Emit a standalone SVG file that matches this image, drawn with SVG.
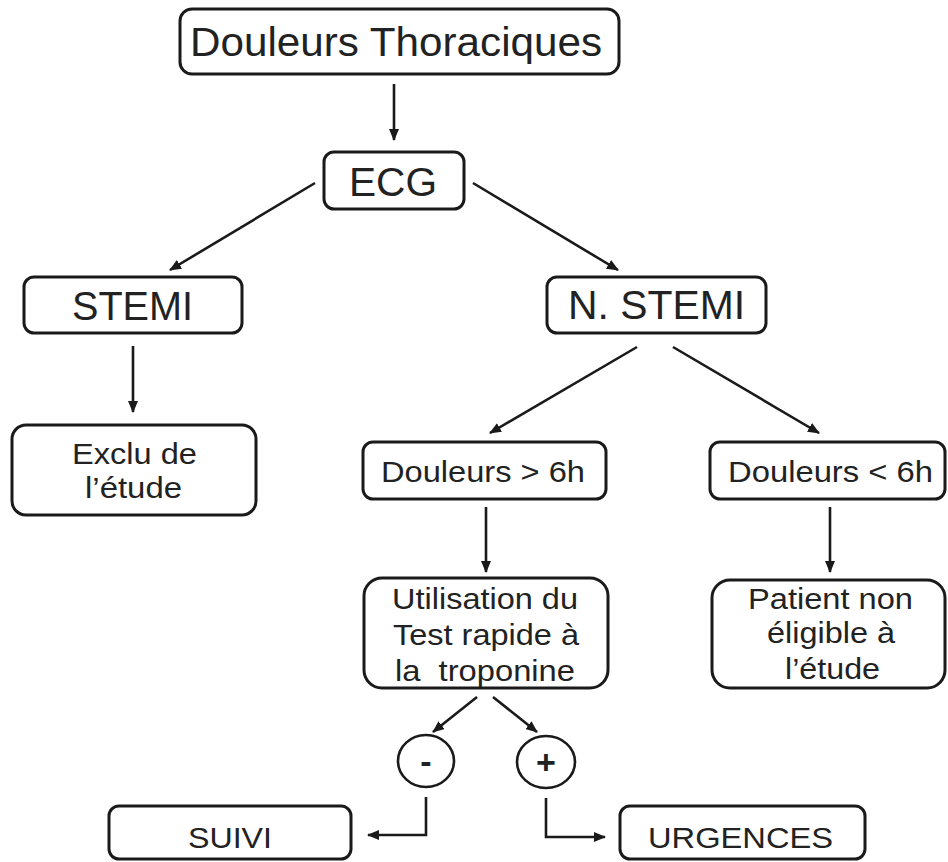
<svg xmlns="http://www.w3.org/2000/svg" width="948" height="862" viewBox="0 0 948 862">
<defs>
<marker id="ah" markerUnits="userSpaceOnUse" markerWidth="12" markerHeight="10" refX="11" refY="5" orient="auto">
<path d="M0,0 L12,5 L0,10 z" fill="#1a1a1a"/>
</marker>
<style>
.box{fill:#fff;stroke:#1a1a1a;stroke-width:3}
.c{fill:none;stroke:#1a1a1a;stroke-width:2.6;marker-end:url(#ah)}
.big{font-family:"Liberation Sans",Arial,sans-serif;font-size:40px;fill:#222;text-anchor:middle}
.sm{font-family:"Liberation Sans",Arial,sans-serif;font-size:30px;fill:#222;text-anchor:middle}
.sym{font-family:"Liberation Sans",Arial,sans-serif;font-size:34px;font-weight:bold;fill:#222;text-anchor:middle}
</style>
</defs>
<rect width="948" height="862" fill="#fff"/>
<g id="connectors">
<line class="c" x1="394" y1="84" x2="394" y2="140"/>
<line class="c" x1="315" y1="183" x2="170" y2="270"/>
<line class="c" x1="473" y1="183" x2="618" y2="270"/>
<line class="c" x1="133" y1="346" x2="133" y2="412"/>
<line class="c" x1="637" y1="347" x2="490" y2="433"/>
<line class="c" x1="673" y1="347" x2="819" y2="433"/>
<line class="c" x1="486" y1="507" x2="486" y2="572"/>
<line class="c" x1="830" y1="507" x2="830" y2="572"/>
<line class="c" x1="477" y1="697" x2="433" y2="732"/>
<line class="c" x1="493" y1="697" x2="537" y2="732"/>
<polyline class="c" points="426,797 426,835 368,835"/>
<polyline class="c" points="546,798 546,837 605,837"/>
</g>
<g id="douleurs-thoraciques">
<rect class="box" x="180" y="9" width="439" height="65" rx="12"/>
<text class="big" x="396" y="56" textLength="412" lengthAdjust="spacingAndGlyphs">Douleurs Thoraciques</text>
</g>
<g id="ecg">
<rect class="box" x="324" y="152" width="140" height="57" rx="10"/>
<text class="big" x="393" y="196" textLength="88" lengthAdjust="spacingAndGlyphs">ECG</text>
</g>
<g id="stemi">
<rect class="box" x="24" y="277" width="218" height="56" rx="10"/>
<text class="big" x="132.5" y="320" textLength="121" lengthAdjust="spacingAndGlyphs">STEMI</text>
</g>
<g id="n-stemi">
<rect class="box" x="547" y="277" width="219" height="56" rx="10"/>
<text class="big" x="656.5" y="319" textLength="177" lengthAdjust="spacingAndGlyphs">N. STEMI</text>
</g>
<g id="exclu">
<rect class="box" x="12" y="425" width="244" height="90" rx="14"/>
<text class="sm" x="134.5" y="464" textLength="125" lengthAdjust="spacingAndGlyphs">Exclu de</text>
<text class="sm" x="133.5" y="498" textLength="97" lengthAdjust="spacingAndGlyphs">l’étude</text>
</g>
<g id="douleurs-sup-6h">
<rect class="box" x="363" y="442" width="243" height="57" rx="10"/>
<text class="sm" x="483" y="482" textLength="204" lengthAdjust="spacingAndGlyphs">Douleurs &gt; 6h</text>
</g>
<g id="douleurs-inf-6h">
<rect class="box" x="710" y="442" width="235" height="57" rx="10"/>
<text class="sm" x="830.5" y="482" textLength="205" lengthAdjust="spacingAndGlyphs">Douleurs &lt; 6h</text>
</g>
<g id="utilisation">
<rect class="box" x="364" y="578" width="244" height="110" rx="18"/>
<text class="sm" x="485" y="609" textLength="186" lengthAdjust="spacingAndGlyphs">Utilisation du</text>
<text class="sm" x="486" y="645" textLength="186" lengthAdjust="spacingAndGlyphs">Test rapide à</text>
<text class="sm" x="485" y="681" textLength="180" lengthAdjust="spacingAndGlyphs" xml:space="preserve" style="white-space:pre">la  troponine</text>
</g>
<g id="patient">
<rect class="box" x="712" y="580" width="233" height="108" rx="18"/>
<text class="sm" x="830.5" y="609" textLength="165" lengthAdjust="spacingAndGlyphs">Patient non</text>
<text class="sm" x="831" y="643" textLength="128" lengthAdjust="spacingAndGlyphs">éligible à</text>
<text class="sm" x="832.5" y="679" textLength="95" lengthAdjust="spacingAndGlyphs">l’étude</text>
</g>
<g id="negatif">
<ellipse class="box" cx="426" cy="761" rx="28" ry="26" style="stroke-width:2.6"/>
<text class="sym" x="426" y="773">-</text>
</g>
<g id="positif">
<ellipse class="box" cx="546" cy="762" rx="29" ry="26" style="stroke-width:2.6"/>
<text class="sym" x="546" y="774">+</text>
</g>
<g id="suivi">
<rect class="box" x="109" y="806" width="242" height="53" rx="10"/>
<text class="sm" x="230" y="848" textLength="84" lengthAdjust="spacingAndGlyphs">SUIVI</text>
</g>
<g id="urgences">
<rect class="box" x="620" y="806" width="245" height="53" rx="10"/>
<text class="sm" x="740.5" y="848" textLength="185" lengthAdjust="spacingAndGlyphs">URGENCES</text>
</g>
</svg>
